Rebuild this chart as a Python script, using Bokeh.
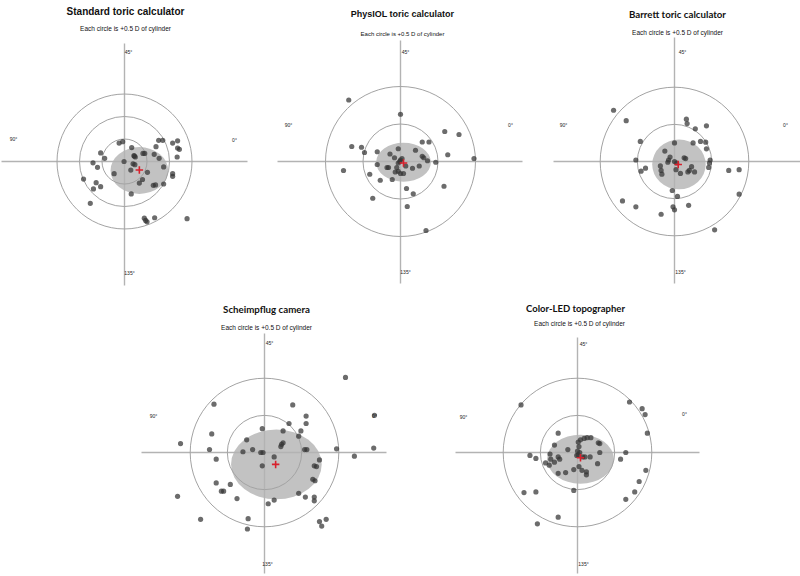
from bokeh.plotting import figure
from bokeh.layouts import column, row, Spacer
from bokeh.models import Range1d, Label
from bokeh.embed import file_html
from bokeh.resources import INLINE

# ---------------- data (diopters, double-angle plot) ----------------
titles = ["Standard toric calculator", "PhysIOL toric calculator", "Barrett toric calculator",
          "Scheimpflug camera", "Color-LED topographer"]
subtitle = "Each circle is +0.5 D of cylinder"
angle_labels = ["45°", "90°", "0°", "135°"]

std_x = [-0.12, -0.04, 0.16, 0.76, 0.85, 1.07, 1.18, 1.18, 1.22, 0.70, 0.21, 0.24, 0.22, 0.41, 0.45,
         0.66, -0.53, -0.44, -0.01, 0.19, 0.23, 0.77, 0.87, 1.17, -0.70, -0.60, 0.14, -0.23, 0.51,
         1.07, 1.07, -0.91, -0.63, -0.53, -0.69, 0.40, 0.33, 0.64, 0.69, 0.87, 0.15, -0.76, 0.44,
         0.47, 0.50, 0.67, 1.39]
std_y = [0.41, 0.44, 0.31, 0.47, 0.47, 0.41, 0.46, 0.30, 0.27, 0.33, 0.13, 0.10, 0.12, 0.18, 0.18,
         0.16, 0.19, 0.07, 0.00, -0.05, -0.07, 0.07, -0.12, 0.10, -0.03, -0.13, -0.19, -0.27, -0.24,
         -0.27, -0.33, -0.39, -0.47, -0.56, -0.61, -0.40, -0.48, -0.53, -0.52, -0.50, -0.72, -0.93,
         -1.26, -1.31, -1.34, -1.25, -1.27]

phy_x = [-0.69, 0.00, 0.59, 0.78, -0.65, -0.52, -0.48, -0.03, 0.29, 0.38, 0.20, -0.14, -0.31, -0.08,
         0.63, 0.29, 0.31, 0.98, 0.00, 0.02, -0.01, -0.03, -0.31, -0.18, -0.16, -0.05, 0.07, 0.16,
         0.25, 0.36, 0.47, -0.76, -0.41, -0.27, -0.11, -0.07, -0.03, 0.00, 0.04, 0.58, 0.08, 0.17,
         -0.37, 0.09, 0.34]
phy_y = [0.82, 0.63, 0.40, 0.36, 0.20, 0.19, 0.12, 0.17, 0.26, 0.26, 0.15, 0.10, 0.13, 0.05, 0.09,
         0.07, 0.05, 0.04, 0.02, 0.04, 0.00, -0.02, -0.04, -0.08, -0.08, -0.08, -0.06, -0.09, -0.06,
         0.01, -0.01, -0.12, -0.17, -0.25, -0.24, -0.14, -0.13, -0.16, -0.16, -0.33, -0.36, -0.43,
         -0.49, -0.60, -0.92]

bar_x = [-0.82, -0.65, 0.16, 0.17, 0.28, 0.43, -0.46, 0.00, 0.25, 0.35, 0.42, 0.43, -0.13, -0.52,
         -0.06, -0.08, -0.09, 0.13, 0.15, 0.00, 0.03, 0.48, 0.47, -0.19, -0.18, -0.17, -0.39, -0.45,
         0.02, 0.08, 0.18, 0.20, 0.23, 0.27, 0.46, 0.73, 0.87, -0.03, 0.04, 0.87, -0.70, -0.52, -0.18,
         -0.02, 0.00, 0.19, 0.54]
bar_y = [0.69, 0.55, 0.57, 0.51, 0.44, 0.48, 0.27, 0.25, 0.25, 0.27, 0.26, 0.17, 0.14, 0.02, 0.06,
         0.02, -0.01, 0.05, 0.04, 0.00, -0.02, 0.02, -0.02, -0.06, -0.12, -0.17, -0.09, -0.13, -0.11,
         -0.16, -0.14, -0.12, -0.07, -0.14, -0.08, -0.12, -0.11, -0.39, -0.47, -0.44, -0.53, -0.61,
         -0.71, -0.61, -0.65, -0.59, -0.92]

sch_x = [1.09, -0.68, 0.38, 0.56, 1.48, 0.33, 0.56, -0.03, 0.25, 0.49, -0.71, 0.46, -0.24, 0.25,
         0.23, 0.22, -1.13, -0.74, -0.29, -0.16, -0.05, -0.02, 0.54, 0.57, 0.97, 1.47, 0.13, 1.21,
         -0.65, 0.74, -0.03, 0.67, 0.70, 0.65, 0.68, -0.65, -0.46, -0.58, -0.55, 0.46, -1.17, -0.37,
         0.55, 0.67, 0.67, 0.13, 0.05, -0.86, -0.22, -0.23, 0.74, 0.83, 0.77]
sch_y = [1.01, 0.65, 0.64, 0.49, 0.50, 0.39, 0.39, 0.32, 0.29, 0.29, 0.25, 0.22, 0.17, 0.13, 0.11,
         0.08, 0.12, 0.04, 0.01, 0.04, 0.00, 0.00, 0.04, 0.04, 0.05, 0.06, -0.06, -0.05, -0.09,
         -0.10, -0.18, -0.18, -0.19, -0.36, -0.38, -0.41, -0.43, -0.52, -0.52, -0.55, -0.59, -0.62,
         -0.60, -0.60, -0.65, -0.64, -0.69, -0.90, -0.89, -1.03, -0.93, -0.90, -0.99]

led_x = [-0.76, 0.70, 0.87, 0.91, -0.26, 0.94, 0.01, 0.04, 0.09, 0.13, 0.18, 0.28, 0.30, -0.31,
         -0.13, 0.02, 0.00, 0.03, -0.01, 0.01, 0.07, 0.10, 0.17, 0.30, 0.65, 0.58, -0.64, -0.56,
         -0.37, -0.36, -0.26, -0.24, -0.31, -0.43, -0.38, 0.27, 0.02, -0.05, 0.06, 0.12, 0.12, -0.26,
         -0.16, 0.92, 0.83, 0.77, 0.65, -0.05, -0.72, -0.56, -0.26, -0.54]
led_y = [0.64, 0.68, 0.59, 0.51, 0.26, 0.26, 0.14, 0.17, 0.19, 0.20, 0.20, 0.13, 0.12, 0.10, 0.04,
         0.08, 0.02, 0.00, -0.04, -0.03, -0.06, -0.06, -0.06, 0.00, 0.00, -0.09, -0.04, -0.08, -0.02,
         -0.09, -0.06, -0.09, -0.13, -0.14, -0.17, -0.15, -0.19, -0.23, -0.24, -0.26, -0.30, -0.28,
         -0.27, -0.24, -0.39, -0.53, -0.63, -0.51, -0.54, -0.53, -0.87, -0.96]

# centroid (red cross) and 95% ellipse: centre x, centre y, width, height
mean_x = [0.33, 0.04, 0.05, 0.15, 0.04]
mean_y = [-0.19, -0.02, -0.04, -0.16, -0.07]
ell_x = [0.33, 0.04, 0.06, 0.16, 0.04]
ell_y = [-0.20, -0.01, -0.04, -0.16, -0.09]
ell_w = [1.28, 0.73, 0.72, 1.22, 0.90]
ell_h = [1.04, 0.52, 0.67, 0.94, 0.66]
ring_radii = [[0.5, 1.0, 1.5], [0.5, 1.0], [0.5, 1.0], [0.5, 1.0], [0.5, 1.0]]

series_x = [std_x, phy_x, bar_x, sch_x, led_x]
series_y = [std_y, phy_y, bar_y, sch_y, led_y]

# ---------------- layout / styling ----------------
# (scale px per D, centre x, centre y on page, fig left, fig top, width, height)
geo = [
    (45.0, 124, 161, 0, 0, 262, 296),
    (75.0, 400, 161, 262, 0, 275, 296),
    (74.3, 674, 161, 537, 0, 263, 296),
    (74.3, 264, 452, 130, 296, 290, 280),
    (74.3, 577, 452, 420, 296, 290, 280),
]
title_fonts = ["Liberation Sans", "Liberation Sans", "Lato", "Lato", "Lato"]
title_sizes = ["10px", "9px", "9.7px", "9.7px", "9.5px"]
sub_sizes = ["6.5px", "6px", "6.5px", "6.5px", "6.5px"]
# pixel offsets from polar centre: title, subtitle, 45, 90, 0, 135
offs = [
    [(1, -150), (1, -133), (4, -110), (-111, -23), (110, -22), (5, 111)],
    [(2, -148), (2, -128), (5, -110), (-112, -37), (110, -37), (5, 110)],
    [(3, -148), (3, -129), (8, -110), (-111, -37), (111, -37), (6, 110)],
    [(2, -144), (2, -125), (5, -110), (-111, -37), (110, -37), (3, 111)],
    [(-2, -144), (2, -129), (6, -109), (-114, -36), (107, -39), (6, 111)],
]
axis_ext = [(-123, 123, -118, 124), (-123, 122, -121, 122), (-121, 126, -124, 122),
            (-123, 122, -119, 121), (-122, 122, -115, 121)]

figs = []
for i in range(5):
    s, cx, cy, left, top, w, h = geo[i]
    x0 = (left - cx) / s
    x1 = (left + w - cx) / s
    y1 = (cy - top) / s
    y0 = (cy - (top + h)) / s
    p = figure(width=w, height=h, x_range=Range1d(x0, x1), y_range=Range1d(y0, y1),
               x_axis_type=None, y_axis_type=None, toolbar_location=None,
               output_backend="svg", min_border=0, outline_line_color=None, title=None,
               background_fill_color="white", border_fill_color="white")
    # confidence ellipse
    p.ellipse(x=[ell_x[i]], y=[ell_y[i]], width=[ell_w[i]], height=[ell_h[i]],
              fill_color="#c2c2c2", line_color=None)
    # axis cross
    hx0, hx1, vy0, vy1 = axis_ext[i]
    p.segment(x0=[hx0 / s, 0], y0=[0, -vy0 / s], x1=[hx1 / s, 0], y1=[0, -vy1 / s],
              line_color="#b3b3b3", line_width=1.4)
    # rings
    rr = ring_radii[i]
    p.circle(x=[0] * len(rr), y=[0] * len(rr), radius=rr, fill_color=None,
             line_color="#a3a3a3", line_width=1)
    # data points
    p.scatter(x=series_x[i], y=series_y[i], size=5.2, fill_color="#333333", fill_alpha=0.72,
              line_color=None)
    # mean
    p.scatter(x=[mean_x[i]], y=[mean_y[i]], marker="cross", size=7.5, line_color="#d8202c",
              line_width=1.6)
    o = offs[i]
    p.add_layout(Label(x=o[0][0] / s, y=-o[0][1] / s, text=titles[i], text_align="center",
                       text_baseline="middle", text_font=title_fonts[i],
                       text_font_size=title_sizes[i], text_font_style="bold",
                       text_color="#111111"))
    p.add_layout(Label(x=o[1][0] / s, y=-o[1][1] / s, text=subtitle, text_align="center",
                       text_baseline="middle", text_font="Liberation Sans",
                       text_font_size=sub_sizes[i], text_color="#111111"))
    for k, lab in enumerate(angle_labels):
        p.add_layout(Label(x=o[k + 2][0] / s, y=-o[k + 2][1] / s, text=lab, text_align="center",
                           text_baseline="middle", text_font="Liberation Sans",
                           text_font_size="5px", text_color="#222222"))
    figs.append(p)

layout = column(row(figs[0], figs[1], figs[2]),
                row(Spacer(width=130, height=280), figs[3], figs[4]))

open("out.html", "w").write(file_html(layout, INLINE))
